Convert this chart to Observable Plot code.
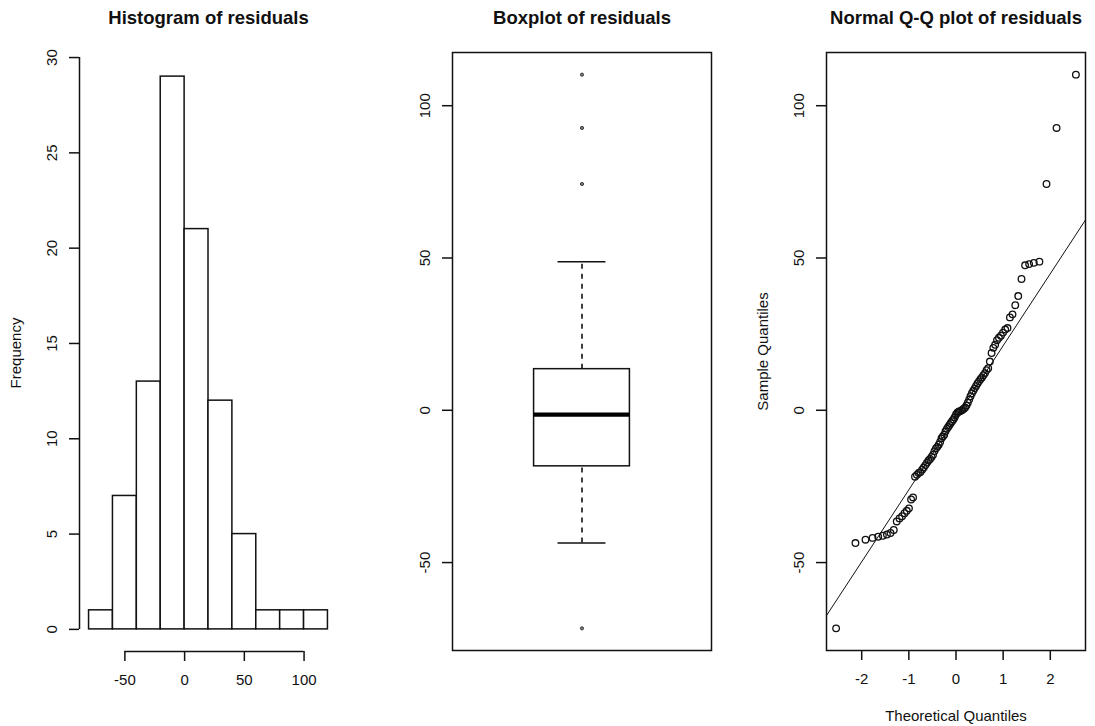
<!DOCTYPE html>
<html>
<head>
<meta charset="utf-8">
<script src="https://cdn.jsdelivr.net/npm/d3@7"></script>
<script src="https://cdn.jsdelivr.net/npm/@observablehq/plot@0.6"></script>
<style>
  body { margin: 0; background: #fff; }
  #chart { position: relative; width: 1095px; height: 726px; background: #fff; overflow: hidden; }
  #chart > div { position: absolute; top: 0; }
</style>
</head>
<body>
<div id="chart"></div>
<script>
// ---------------- data ----------------
// sorted residuals (n = 91), consistent with histogram & boxplot
const residuals = [
  -71.6,
  -43.6, -42.5, -41.9, -41.5, -41.2, -40.8, -40.3,
  -39.3, -36.5, -35.5, -34.8, -33.8, -33.0, -32.2, -29.3, -28.6, -21.8, -21.2, -20.6, -20.3,
  -19.5, -18.8, -18.0, -17.2, -16.5, -16.0, -15.3, -14.6, -13.4, -12.5, -12.0, -11.3, -10.4,
  -9.2, -8.6, -8.0, -6.9, -6.1, -5.5, -4.8, -4.2, -3.6, -3.0, -2.3, -1.4, -0.8, -0.5, -0.3, -0.1,
  0.2, 0.5, 0.9, 1.6, 2.5, 3.5, 4.6, 5.6, 6.4, 7.2, 8.0, 8.8, 9.5, 10.2, 10.8, 11.5, 12.2, 13.2, 13.8, 16.0, 18.8,
  20.5, 21.5, 23.0, 23.8, 24.5, 25.5, 26.5, 27.0, 30.5, 31.5, 34.5, 37.5,
  43.1, 47.6, 48.0, 48.4, 48.8,
  74.3, 92.7, 110.2
];
const binBreaks = [-80, -60, -40, -20, 0, 20, 40, 60, 80, 100, 120];

const histXTicks = [-50, 0, 50, 100];
const histYTicks = [0, 5, 10, 15, 20, 25, 30];
const boxYTicks = [-50, 0, 50, 100];
const qqXTicks = [-2, -1, 0, 1, 2];
const qqYTicks = [-50, 0, 50, 100];

const titles = ["Histogram of residuals", "Boxplot of residuals", "Normal Q-Q plot of residuals"];
const histYLabel = "Frequency";
const qqXLabel = "Theoretical Quantiles";
const qqYLabel = "Sample Quantiles";

// ---------------- helpers ----------------
const FONT = "'Liberation Sans', Arial, Helvetica, sans-serif";
const LW = 1.5;            // line width
const TICK = 10;           // tick length (px)
const LAB = 15;            // label font size
const INK = "#111";
const expand = ([a, b]) => { const e = (b - a) * 0.04; return [a - e, b + e]; };

function qnorm(p) {
  const a = [-3.969683028665376e+01, 2.209460984245205e+02, -2.759285104469687e+02, 1.383577518672690e+02, -3.066479806614716e+01, 2.506628277459239e+00];
  const b = [-5.447609879822406e+01, 1.615858368580409e+02, -1.556989798598866e+02, 6.680131188771972e+01, -1.328068155288572e+01];
  const c = [-7.784894002430293e-03, -3.223964580411365e-01, -2.400758277161838e+00, -2.549732539343734e+00, 4.374664141464968e+00, 2.938163982698783e+00];
  const d = [7.784695709041462e-03, 3.224671290700398e-01, 2.445134137142996e+00, 3.754408661907416e+00];
  const pl = 0.02425, ph = 1 - pl;
  let q, r;
  if (p < pl) {
    q = Math.sqrt(-2 * Math.log(p));
    return (((((c[0]*q+c[1])*q+c[2])*q+c[3])*q+c[4])*q+c[5]) / ((((d[0]*q+d[1])*q+d[2])*q+d[3])*q+1);
  }
  if (p <= ph) {
    q = p - 0.5; r = q * q;
    return (((((a[0]*r+a[1])*r+a[2])*r+a[3])*r+a[4])*r+a[5])*q / (((((b[0]*r+b[1])*r+b[2])*r+b[3])*r+b[4])*r+1);
  }
  q = Math.sqrt(-2 * Math.log(1 - p));
  return -(((((c[0]*q+c[1])*q+c[2])*q+c[3])*q+c[4])*q+c[5]) / ((((d[0]*q+d[1])*q+d[2])*q+d[3])*q+1);
}

// common marks: title, y ticks + labels on left edge, x ticks + labels on bottom edge
function titleMark(t, marginTop) {
  return Plot.text([t], {text: d => d, frameAnchor: "top", dy: 18 - marginTop, fontWeight: "bold", fontSize: 18.5, lineAnchor: "middle", fill: INK});
}
function yAxisMarks(ticks, xEdge) {
  return [
    Plot.ruleY(ticks, {y: d => d, x1: xEdge, x2: xEdge, insetLeft: -TICK, stroke: INK, strokeWidth: LW}),
    Plot.text(ticks, {y: d => d, x: xEdge, text: d => String(d), dx: -27, rotate: -90, textAnchor: "middle", lineAnchor: "middle", fontSize: LAB, fill: INK})
  ];
}
function xAxisMarks(ticks, yEdge) {
  return [
    Plot.ruleX(ticks, {x: d => d, y1: yEdge, y2: yEdge, insetBottom: -TICK, stroke: INK, strokeWidth: LW}),
    Plot.text(ticks, {x: d => d, y: yEdge, text: d => String(d), dy: 29, textAnchor: "middle", lineAnchor: "middle", fontSize: LAB, fill: INK})
  ];
}

const chart = document.getElementById("chart");
function place(svg, left) {
  const div = document.createElement("div");
  div.style.left = left + "px";
  div.appendChild(svg);
  chart.appendChild(div);
}

// ---------------- panel 1: histogram ----------------
{
  const bins = d3.bin().domain([binBreaks[0], binBreaks[binBreaks.length - 1]]).thresholds(binBreaks.slice(1, -1))(residuals);
  const histData = bins.map(b => ({x0: b.x0, x1: b.x1, count: b.length}));
  const xd = expand([binBreaks[0], binBreaks[binBreaks.length - 1]]);
  const yd = expand([0, d3.max(histData, d => d.count)]);
  const m = {top: 54, right: 28, bottom: 75, left: 79};
  const svg = Plot.plot({
    width: 365, height: 726,
    marginTop: m.top, marginRight: m.right, marginBottom: m.bottom, marginLeft: m.left,
    style: {fontFamily: FONT, fontSize: LAB + "px", background: "transparent", color: "black"},
    x: {domain: xd, axis: null},
    y: {domain: yd, axis: null},
    marks: [
      Plot.rectY(histData, {x1: "x0", x2: "x1", y: "count", inset: 0, fill: "white", stroke: INK, strokeWidth: LW}),
      Plot.ruleX([xd[0]], {x: d => d, y1: histYTicks[0], y2: histYTicks[histYTicks.length - 1], stroke: INK, strokeWidth: LW}),
      Plot.ruleY([yd[0]], {y: d => d, x1: histXTicks[0], x2: histXTicks[histXTicks.length - 1], stroke: INK, strokeWidth: LW}),
      ...yAxisMarks(histYTicks, xd[0]),
      ...xAxisMarks(histXTicks, yd[0]),
      Plot.text([histYLabel], {text: d => d, frameAnchor: "left", dx: -63, rotate: -90, textAnchor: "middle", lineAnchor: "middle", fontSize: LAB, fill: INK}),
      titleMark(titles[0], m.top)
    ]
  });
  place(svg, 0);
}

// ---------------- panel 2: boxplot ----------------
const sorted = residuals.slice().sort(d3.ascending);
const yd = expand(d3.extent(sorted));
{
  const q1 = d3.quantile(sorted, 0.25), med = d3.quantile(sorted, 0.5), q3 = d3.quantile(sorted, 0.75);
  const iqr = q3 - q1;
  const lo = d3.min(sorted.filter(v => v >= q1 - 1.5 * iqr));
  const hi = d3.max(sorted.filter(v => v <= q3 + 1.5 * iqr));
  const outliers = sorted.filter(v => v < lo || v > hi);
  const center = 1, halfW = 0.185;
  const m = {top: 52, right: 19, bottom: 76, left: 87};
  const svg = Plot.plot({
    width: 365, height: 726,
    marginTop: m.top, marginRight: m.right, marginBottom: m.bottom, marginLeft: m.left,
    style: {fontFamily: FONT, fontSize: LAB + "px", background: "transparent", color: "black"},
    x: {domain: [0.5, 1.5], axis: null},
    y: {domain: yd, axis: null},
    marks: [
      Plot.ruleX([center], {x: d => d, y1: q3, y2: hi, stroke: INK, strokeWidth: 1.6, strokeDasharray: "5,5"}),
      Plot.ruleX([center], {x: d => d, y1: lo, y2: q1, stroke: INK, strokeWidth: 1.6, strokeDasharray: "5,5"}),
      Plot.ruleY([lo, hi], {y: d => d, x1: center - halfW / 2, x2: center + halfW / 2, stroke: INK, strokeWidth: LW}),
      Plot.rect([{q1, q3}], {x1: center - halfW, x2: center + halfW, y1: "q1", y2: "q3", fill: "white", stroke: INK, strokeWidth: LW}),
      Plot.ruleY([med], {y: d => d, x1: center - halfW, x2: center + halfW, stroke: "black", strokeWidth: 4.2}),
      Plot.dot(outliers, {x: center, y: d => d, r: 1.6, fill: "#777", stroke: "#333", strokeWidth: 0.9}),
      Plot.frame({stroke: INK, strokeWidth: LW}),
      ...yAxisMarks(boxYTicks, 0.5),
      titleMark(titles[1], m.top)
    ]
  });
  place(svg, 365);
}

// ---------------- panel 3: normal Q-Q plot ----------------
{
  const n = sorted.length;
  const qq = sorted.map((v, i) => ({q: qnorm((i + 1 - 0.5) / n), v}));
  const xd = expand(d3.extent(qq, d => d.q));
  const yq1 = d3.quantile(sorted, 0.25), yq3 = d3.quantile(sorted, 0.75);
  const xq1 = qnorm(0.25), xq3 = qnorm(0.75);
  const slope = (yq3 - yq1) / (xq3 - xq1);
  const intercept = yq1 - slope * xq1;
  const lineEnds = [{x1: xd[0], y1: intercept + slope * xd[0], x2: xd[1], y2: intercept + slope * xd[1]}];
  const m = {top: 52, right: 10, bottom: 76, left: 96};
  const svg = Plot.plot({
    width: 365, height: 726,
    marginTop: m.top, marginRight: m.right, marginBottom: m.bottom, marginLeft: m.left,
    style: {fontFamily: FONT, fontSize: LAB + "px", background: "transparent", color: "black"},
    x: {domain: xd, axis: null},
    y: {domain: yd, axis: null},
    marks: [
      Plot.link(lineEnds, {x1: "x1", y1: "y1", x2: "x2", y2: "y2", stroke: INK, strokeWidth: 1}),
      Plot.dot(qq, {x: "q", y: "v", r: 3.3, fill: "none", stroke: INK, strokeWidth: 1.3}),
      Plot.frame({stroke: INK, strokeWidth: LW}),
      ...yAxisMarks(qqYTicks, xd[0]),
      ...xAxisMarks(qqXTicks, yd[0]),
      Plot.text([qqYLabel], {text: d => d, frameAnchor: "left", dx: -63, rotate: -90, textAnchor: "middle", lineAnchor: "middle", fontSize: LAB, fill: INK}),
      Plot.text([qqXLabel], {text: d => d, frameAnchor: "bottom", dy: 66, textAnchor: "middle", lineAnchor: "middle", fontSize: LAB, fill: INK}),
      titleMark(titles[2], m.top)
    ]
  });
  place(svg, 730);
}
</script>
</body>
</html>
